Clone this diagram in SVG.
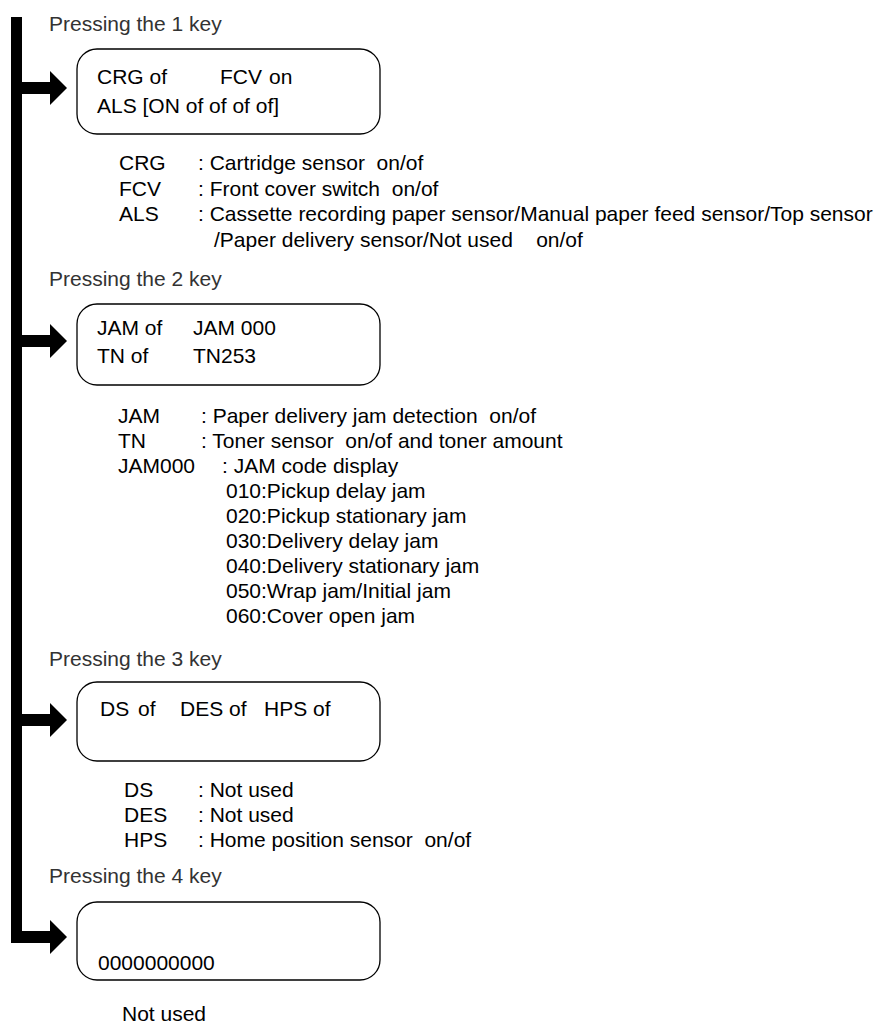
<svg xmlns="http://www.w3.org/2000/svg" width="885" height="1026" viewBox="0 0 885 1026">
<style>
text{font-family:"Liberation Sans",Arial,Helvetica,sans-serif;font-size:21px;fill:#000}
.lbl{fill:#333}
.box{fill:#fff;stroke:#000;stroke-width:1.3}
.conn{fill:#000;stroke:none}
</style>
<rect width="885" height="1026" fill="#fff"/>
<g id="connectors">
<rect class="conn" x="11" y="17" width="11" height="926"/>
<path class="conn" d="M22,82 H50 V71 L67,88 L50,105 V94 H22 Z"/>
<path class="conn" d="M22,335 H50 V324 L67,341 L50,358 V347 H22 Z"/>
<path class="conn" d="M22,714 H50 V703 L67,720 L50,737 V726 H22 Z"/>
<path class="conn" d="M11,931 H50 V920 L67,937 L50,954 V943 H11 Z"/>
</g>
<g id="key1">
<text class="lbl" x="49" y="31">Pressing the 1 key</text>
<rect class="box" x="77" y="49" width="303" height="85" rx="20" ry="20"/>
<text x="97" y="84">CRG of</text>
<text x="220" y="84">FCV</text>
<text x="269" y="84">on</text>
<text x="97" y="113">ALS [ON of of of of]</text>
<text x="119" y="170">CRG</text>
<text x="198" y="170" xml:space="preserve">: Cartridge sensor  on/of</text>
<text x="119" y="196">FCV</text>
<text x="198" y="196" xml:space="preserve">: Front cover switch  on/of</text>
<text x="119" y="221">ALS</text>
<text x="198" y="221">: Cassette recording paper sensor/Manual paper feed sensor/Top sensor</text>
<text x="214" y="247" xml:space="preserve">/Paper delivery sensor/Not used    on/of</text>
</g>
<g id="key2">
<text class="lbl" x="49" y="286">Pressing the 2 key</text>
<rect class="box" x="77" y="304" width="303" height="81" rx="20" ry="20"/>
<text x="97" y="335">JAM of</text>
<text x="193" y="335">JAM 000</text>
<text x="97" y="363">TN of</text>
<text x="193" y="363">TN253</text>
<text x="118" y="423">JAM</text>
<text x="201" y="423" xml:space="preserve">: Paper delivery jam detection  on/of</text>
<text x="118" y="448">TN</text>
<text x="201" y="448" xml:space="preserve">: Toner sensor  on/of and toner amount</text>
<text x="118" y="473">JAM000</text>
<text x="222" y="473">: JAM code display</text>
<text x="226" y="498">010:Pickup delay jam</text>
<text x="226" y="523">020:Pickup stationary jam</text>
<text x="226" y="548">030:Delivery delay jam</text>
<text x="226" y="573">040:Delivery stationary jam</text>
<text x="226" y="598">050:Wrap jam/Initial jam</text>
<text x="226" y="623">060:Cover open jam</text>
</g>
<g id="key3">
<text class="lbl" x="49" y="666">Pressing the 3 key</text>
<rect class="box" x="77" y="682" width="303" height="79" rx="20" ry="20"/>
<text x="100" y="716">DS</text>
<text x="138" y="716">of</text>
<text x="180" y="716">DES of</text>
<text x="264" y="716">HPS of</text>
<text x="124" y="797">DS</text>
<text x="198" y="797">: Not used</text>
<text x="124" y="822">DES</text>
<text x="198" y="822">: Not used</text>
<text x="124" y="847">HPS</text>
<text x="198" y="847" xml:space="preserve">: Home position sensor  on/of</text>
</g>
<g id="key4">
<text class="lbl" x="49" y="883">Pressing the 4 key</text>
<rect class="box" x="77" y="902" width="303" height="78" rx="20" ry="20"/>
<text x="98" y="970">0000000000</text>
<text x="122" y="1021">Not used</text>
</g>
</svg>
